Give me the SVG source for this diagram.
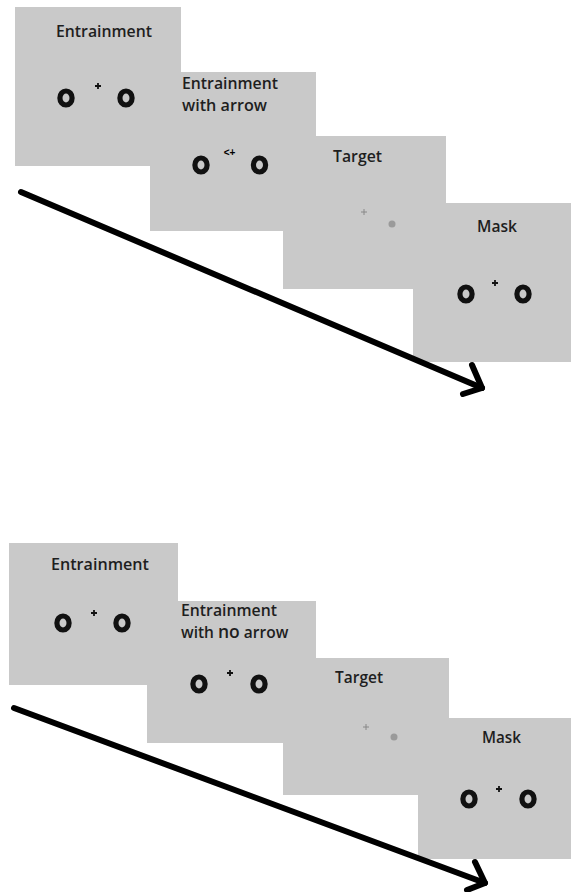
<svg xmlns="http://www.w3.org/2000/svg" width="571" height="892" viewBox="0 0 571 892">
<style>
.bg{fill:#ffffff}
.panel{fill:#c9c9c9}
.lbl{font-family:"Open Sans","Liberation Sans",sans-serif;font-size:15.5px;font-weight:600;fill:#1e1e1e}
.ring{fill:none;stroke:#111;stroke-width:5.2}
.plus{stroke:#111;stroke-width:1.8;fill:none}
.tplus{stroke:#888;stroke-width:1;fill:none}
.dot{fill:#9a9a9a}
.arr{fill:none;stroke:#000;stroke-width:6;stroke-linecap:round;stroke-linejoin:round}
.cue{font-family:"Liberation Sans",sans-serif;font-size:10px;font-weight:700;fill:#000}
</style>
<defs>
<ellipse id="ring" class="ring" cx="0" cy="0" rx="6.1" ry="7"/>
<path id="fix" class="plus" d="M-3,0H3M0,-3V3"/>
<path id="tfix" class="tplus" d="M-3,0H3M0,-3V3"/>
</defs>
<rect class="bg" x="0" y="0" width="571" height="892"/>

<g id="top-entrainment">
<rect class="panel" x="15" y="7" width="166" height="159"/>
<text class="lbl" x="56" y="37" textLength="96" lengthAdjust="spacingAndGlyphs">Entrainment</text>
<use href="#ring" x="66" y="98"/>
<use href="#ring" x="126" y="98"/>
<use href="#fix" x="98" y="86"/>
</g>

<g id="top-entrainment-arrow">
<rect class="panel" x="150" y="72" width="166" height="159"/>
<text class="lbl" x="182" y="88.5" textLength="96" lengthAdjust="spacingAndGlyphs">Entrainment</text>
<text class="lbl" x="182" y="110.5" textLength="85" lengthAdjust="spacingAndGlyphs">with arrow</text>
<use href="#ring" x="201" y="165"/>
<use href="#ring" x="259.5" y="165"/>
<text class="cue" x="229.5" y="156" text-anchor="middle">&lt;+</text>
</g>

<g id="top-target">
<rect class="panel" x="283" y="136" width="163" height="153"/>
<text class="lbl" x="333" y="162" textLength="49" lengthAdjust="spacingAndGlyphs">Target</text>
<use href="#tfix" x="364" y="212"/>
<circle class="dot" cx="392" cy="224" r="3.5"/>
</g>

<g id="top-mask">
<rect class="panel" x="413" y="203" width="158" height="159"/>
<text class="lbl" x="477" y="232" textLength="40" lengthAdjust="spacingAndGlyphs">Mask</text>
<use href="#ring" x="466" y="294"/>
<use href="#ring" x="523" y="294"/>
<use href="#fix" x="495" y="283"/>
</g>

<g id="bottom-entrainment">
<rect class="panel" x="9" y="543" width="169" height="142"/>
<text class="lbl" x="51" y="570" textLength="98" lengthAdjust="spacingAndGlyphs">Entrainment</text>
<use href="#ring" x="63" y="623"/>
<use href="#ring" x="122" y="623"/>
<use href="#fix" x="94" y="613"/>
</g>

<g id="bottom-entrainment-no-arrow">
<rect class="panel" x="147" y="601" width="169" height="142"/>
<text class="lbl" x="181" y="615.5" textLength="96" lengthAdjust="spacingAndGlyphs">Entrainment</text>
<text class="lbl" x="181" y="637.5">with <tspan font-size="17.5px">no</tspan> arrow</text>
<use href="#ring" x="199" y="684"/>
<use href="#ring" x="259" y="684"/>
<use href="#fix" x="230" y="673"/>
</g>

<g id="bottom-target">
<rect class="panel" x="283" y="658" width="166" height="137"/>
<text class="lbl" x="335" y="683" textLength="48" lengthAdjust="spacingAndGlyphs">Target</text>
<use href="#tfix" x="366" y="727"/>
<circle class="dot" cx="394" cy="737" r="3.5"/>
</g>

<g id="bottom-mask">
<rect class="panel" x="418" y="718" width="153" height="141"/>
<text class="lbl" x="482" y="743" textLength="39" lengthAdjust="spacingAndGlyphs">Mask</text>
<use href="#ring" x="469" y="799"/>
<use href="#ring" x="528" y="799"/>
<use href="#fix" x="499" y="789"/>
</g>

<g id="connectors">
<path class="arr" d="M21,192L482,388"/>
<path class="arr" d="M472,365L482,388L463,394"/>
<path class="arr" d="M14,708L485,883"/>
<path class="arr" d="M475,862L485,883L467,890"/>
</g>
</svg>
